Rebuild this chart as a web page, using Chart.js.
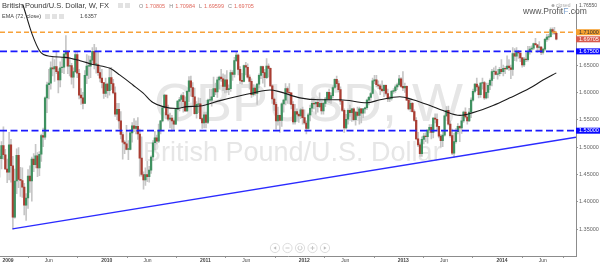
<!DOCTYPE html>
<html>
<head>
<meta charset="utf-8">
<script src="https://cdn.jsdelivr.net/npm/chart.js@4.4.1/dist/chart.umd.min.js"></script>
<style>
  html, body { margin: 0; padding: 0; background: #fff; }
  #wrap { position: relative; width: 600px; height: 266px; overflow: hidden; }
</style>
</head>
<body>
<div id="wrap"><canvas id="chart1" width="600" height="266"></canvas></div>
<script>
// weekly GBP/USD candles, week 0 = Mon 1 Dec 2008
var startDate = '2008-12-01';
var firstOpen = 1.4830;
var closes = [
  1.4790,1.5030,1.4860,1.4600,1.4540,
  1.5040,1.4660,1.3720,1.4380,1.4850,1.4410,1.4390,1.4270,1.3940,1.4070,1.4470,1.4380,1.4780,1.4680,1.4840,1.4620,1.4870,1.5210,1.5180,1.5900,1.6140,1.6170,1.6450,1.6430,1.6470,1.6380,1.6230,1.6450,1.6460,1.6700,1.6740,1.6480,1.6490,1.6280,1.6380,1.6690,1.6350,1.5950,1.5900,1.5800,1.6310,1.6480,1.6480,1.6590,1.6750,1.6510,1.6510,1.6360,1.6260,1.6180,1.5980,1.6150,
  1.6030,1.6270,1.6160,1.5990,1.5600,1.5690,1.5480,1.5230,1.5090,1.5060,1.4960,1.4960,1.5260,1.5390,1.5340,1.5380,1.5240,1.4800,1.4500,1.4400,1.4500,1.4460,1.4580,1.4820,1.5080,1.5170,1.5110,1.5310,1.5480,1.5720,1.5950,1.5590,1.5510,1.5530,1.5480,1.5420,1.5690,1.5840,1.5870,1.5940,1.5830,1.5660,1.6020,1.6210,1.6090,1.5920,1.5610,1.5780,1.5790,1.5520,1.5440,1.5590,
  1.5450,1.5860,1.5860,1.5920,1.6070,1.6010,1.6230,1.6280,1.6250,1.6110,1.6230,1.6050,1.6070,1.6360,1.6330,1.6580,1.6680,1.6420,1.6220,1.6200,1.6490,1.6460,1.6280,1.6200,1.5960,1.6080,1.5980,1.6150,1.6310,1.6470,1.6360,1.6270,1.6480,1.6440,1.6120,1.5880,1.5780,1.5480,1.5580,1.5490,1.5790,1.5860,1.6070,1.6000,1.5990,1.5780,1.5460,1.5650,1.5600,1.5570,1.5680,1.5540,
  1.5440,1.5340,1.5590,1.5710,1.5800,1.5790,1.5820,1.5740,1.5800,1.5660,1.5800,1.5880,1.6000,1.5880,1.5940,1.6090,1.6240,1.6160,1.6050,1.5840,1.5670,1.5350,1.5510,1.5670,1.5630,1.5700,1.5500,1.5640,1.5580,1.5700,1.5620,1.5700,1.5720,1.5860,1.5910,1.5980,1.6210,1.6230,1.6140,1.6120,1.6060,1.6030,1.6130,1.5980,1.5880,1.5890,1.6020,1.6030,1.6100,1.6140,1.6250,1.6110,1.6080,
  1.6110,1.5860,1.5700,1.5800,1.5650,1.5490,1.5150,1.5040,1.4880,1.5140,1.5200,1.5190,1.5310,1.5360,1.5270,1.5530,1.5510,1.5380,1.5200,1.5120,1.5220,1.5570,1.5670,1.5420,1.5210,1.4890,1.5100,1.5280,1.5380,1.5350,1.5480,1.5640,1.5550,1.5480,1.5640,1.5860,1.6020,1.6150,1.6100,1.5960,1.6170,1.6180,1.5900,1.6000,1.6130,1.6220,1.6380,1.6380,1.6330,1.6340,1.6420,1.6380,
  1.6440,1.6430,1.6480,1.6450,1.6420,1.6710,1.6660,1.6740,1.6720,1.6630,1.6500,1.6610,1.6600,1.6750,1.6790,1.6810,1.6890,1.6870,1.6820,1.6830,1.6730,1.6790,1.6970,1.7010,1.7020,1.7150,1.7110,1.7081,1.69705
];
var highs = [
  1.4950,1.5100,1.5370,1.4960,1.4780,
  1.5270,1.5140,1.4830,1.4600,1.4970,1.4990,1.4630,1.4620,1.4340,1.4150,1.4590,1.4660,1.4820,1.4880,1.5050,1.4900,1.4920,1.5240,1.5350,1.5920,1.6190,1.6420,1.6560,1.6650,1.6600,1.6740,1.6430,1.6560,1.6640,1.6720,1.7040,1.6760,1.6640,1.6530,1.6450,1.6740,1.6740,1.6420,1.6070,1.6000,1.6400,1.6690,1.6670,1.6660,1.6820,1.6880,1.6820,1.6740,1.6460,1.6420,1.6180,1.6260,
  1.6170,1.6450,1.6460,1.6240,1.6100,1.5800,1.5800,1.5650,1.5270,1.5120,1.5400,1.5120,1.5320,1.5450,1.5520,1.5480,1.5540,1.5330,1.5190,1.4550,1.4620,1.4740,1.4650,1.4840,1.5120,1.5290,1.5220,1.5420,1.5490,1.5740,1.5970,1.5950,1.5770,1.5620,1.5580,1.5500,1.5700,1.5850,1.5910,1.5970,1.6000,1.5920,1.6040,1.6290,1.6300,1.6180,1.6080,1.5830,1.5900,1.5890,1.5540,1.5640,
  1.5640,1.5880,1.6060,1.6060,1.6280,1.6170,1.6280,1.6300,1.6420,1.6340,1.6320,1.6400,1.6140,1.6410,1.6400,1.6640,1.6750,1.6700,1.6470,1.6350,1.6500,1.6550,1.6520,1.6320,1.6250,1.6140,1.6120,1.6160,1.6340,1.6480,1.6480,1.6420,1.6620,1.6520,1.6450,1.6140,1.5900,1.5820,1.5730,1.5580,1.5810,1.5880,1.6160,1.6100,1.6160,1.5990,1.5830,1.5780,1.5700,1.5620,1.5710,1.5730,
  1.5680,1.5480,1.5620,1.5770,1.5900,1.5900,1.5830,1.5880,1.5990,1.5830,1.5820,1.5910,1.6010,1.6060,1.5990,1.6120,1.6250,1.6300,1.6210,1.6100,1.5850,1.5700,1.5600,1.5700,1.5770,1.5710,1.5720,1.5660,1.5730,1.5730,1.5710,1.5710,1.5730,1.5880,1.5930,1.6000,1.6260,1.6310,1.6310,1.6210,1.6150,1.6210,1.6140,1.6140,1.6060,1.5930,1.6040,1.6070,1.6140,1.6170,1.6310,1.6270,1.6380,
  1.6170,1.6120,1.5900,1.5870,1.5820,1.5680,1.5540,1.5270,1.5080,1.5190,1.5250,1.5260,1.5320,1.5410,1.5410,1.5540,1.5610,1.5610,1.5380,1.5230,1.5310,1.5590,1.5740,1.5750,1.5480,1.5330,1.5250,1.5340,1.5430,1.5390,1.5560,1.5660,1.5720,1.5590,1.5710,1.5900,1.6060,1.6160,1.6260,1.6130,1.6180,1.6260,1.6200,1.6170,1.6170,1.6250,1.6420,1.6450,1.6480,1.6420,1.6460,1.6600,
  1.6500,1.6470,1.6670,1.6600,1.6500,1.6820,1.6800,1.6820,1.6770,1.6720,1.6640,1.6640,1.6720,1.6840,1.6840,1.6850,1.6900,1.6990,1.6880,1.6930,1.6840,1.6800,1.6990,1.7060,1.7060,1.7180,1.7180,1.7190,1.70984
];
var lows = [
  1.4450,1.4600,1.4780,1.4590,1.4350,
  1.4400,1.4360,1.3500,1.3700,1.4150,1.4260,1.4100,1.4080,1.3760,1.3660,1.3880,1.4170,1.4010,1.4550,1.4620,1.4460,1.4480,1.4740,1.5010,1.5140,1.5630,1.5880,1.6060,1.6300,1.6200,1.6340,1.5990,1.6100,1.6360,1.6340,1.6620,1.6340,1.6300,1.6150,1.6080,1.6360,1.6270,1.5880,1.5780,1.5700,1.5800,1.6160,1.6250,1.6270,1.6540,1.6430,1.6350,1.6310,1.6190,1.6080,1.5890,1.5920,
  1.5900,1.5950,1.6050,1.5970,1.5560,1.5500,1.5340,1.5150,1.4780,1.4880,1.4950,1.4770,1.4950,1.5090,1.5280,1.5240,1.5140,1.4470,1.4470,1.4230,1.4300,1.4370,1.4360,1.4520,1.4750,1.4950,1.5060,1.5080,1.5240,1.5460,1.5710,1.5520,1.5480,1.5350,1.5290,1.5300,1.5410,1.5490,1.5660,1.5720,1.5640,1.5650,1.5650,1.5830,1.5930,1.5760,1.5600,1.5530,1.5630,1.5510,1.5340,1.5350,
  1.5350,1.5430,1.5830,1.5750,1.5920,1.5960,1.5910,1.6060,1.6200,1.6030,1.5990,1.6000,1.5960,1.6020,1.6220,1.6280,1.6560,1.6320,1.6160,1.6150,1.6190,1.6320,1.6260,1.6060,1.5910,1.5930,1.5950,1.5780,1.6080,1.6250,1.6170,1.6100,1.6250,1.6280,1.6110,1.5800,1.5670,1.5330,1.5400,1.5270,1.5380,1.5640,1.5770,1.5800,1.5790,1.5700,1.5420,1.5420,1.5470,1.5450,1.5520,1.5420,
  1.5420,1.5240,1.5330,1.5480,1.5650,1.5700,1.5600,1.5640,1.5720,1.5600,1.5600,1.5740,1.5830,1.5810,1.5800,1.5900,1.6070,1.6100,1.6010,1.5780,1.5650,1.5270,1.5330,1.5420,1.5560,1.5470,1.5480,1.5400,1.5550,1.5420,1.5440,1.5540,1.5620,1.5690,1.5770,1.5850,1.5970,1.6160,1.6100,1.6070,1.5960,1.6010,1.5920,1.5950,1.5830,1.5830,1.5860,1.5980,1.6000,1.6050,1.6120,1.6090,1.6030,
  1.6000,1.5850,1.5680,1.5650,1.5640,1.5470,1.5130,1.5010,1.4830,1.4830,1.5060,1.5100,1.5070,1.5260,1.5150,1.5170,1.5440,1.5320,1.5170,1.5000,1.5010,1.5200,1.5560,1.5400,1.5180,1.4860,1.4810,1.5070,1.5240,1.5100,1.5250,1.5450,1.5530,1.5420,1.5470,1.5540,1.5840,1.5990,1.6030,1.5900,1.5910,1.6060,1.5870,1.5880,1.5900,1.6050,1.6120,1.6250,1.6320,1.6240,1.6300,1.6340,
  1.6300,1.6340,1.6420,1.6400,1.6250,1.6310,1.6580,1.6570,1.6620,1.6560,1.6460,1.6470,1.6560,1.6570,1.6700,1.6730,1.6780,1.6860,1.6730,1.6760,1.6690,1.6700,1.6760,1.6930,1.6960,1.7010,1.7060,1.7060,1.69599
];

// EMA (72, close): week index / value
var emaWeeks  = [0, 6.5, 12.2, 17.1, 21.3, 26.6, 34.5, 42.5, 49.3, 58.3, 63.6, 70.4, 75.7, 81, 86.3, 93.7, 99, 105.8, 116.4, 127, 133.8, 142.8, 148.1, 158.6, 169.2, 179.8, 194, 200.9, 211.4, 218.3, 227.3, 234.2, 243.1, 250, 260.6, 269.5, 280.1, 287, 294];
var emaValues = [1.874, 1.815, 1.761, 1.707, 1.675, 1.666, 1.664, 1.658, 1.651, 1.644, 1.6315, 1.6135, 1.599, 1.5815, 1.574, 1.5705, 1.574, 1.575, 1.585, 1.594, 1.599, 1.6045, 1.601, 1.590, 1.5866, 1.5866, 1.581, 1.5866, 1.592, 1.5866, 1.576, 1.5668, 1.558, 1.563, 1.576, 1.590, 1.608, 1.6225, 1.6357];

// drawn levels and trend line
var orangeLevel = 1.71;
var blueLevels = [1.675, 1.53];
var trendWeeks = [6.8, 304.4];
var trendPrices = [1.3505, 1.518];

// axes
var xMin = 0.2, xMax = 304.4;
var yMin = 1.301, yMax = 1.761;
var priceTicks = [1.35, 1.40, 1.45, 1.50, 1.55, 1.60, 1.65];
var tickDates = ['2009-01-01','2009-06-01','2010-01-01','2010-06-01','2011-01-01','2011-06-01','2012-01-01','2012-06-01','2013-01-01','2013-06-01','2014-01-01','2014-06-01'];
var tickLabels = ['2009','Jun','2010','Jun','2011','Jun','2012','Jun','2013','Jun','2014','Jun'];

var lastOHLC = ['1.70805', '1.70984', '1.69599', '1.69705'];
var emaLast = '1.6357';

function weekOf(d) {
  return (Date.parse(d) - Date.parse(startDate)) / 604800000;
}

var wicks = [], bodies = [], bodyColors = [];
for (var i = 0; i < closes.length; i++) {
  var o = i == 0 ? firstOpen : closes[i - 1];
  wicks.push({x: i, y: [lows[i], highs[i]]});
  bodies.push({x: i, y: [o, closes[i]]});
  bodyColors.push(closes[i] >= o ? '#3f9160' : '#aa3d32');
}

var FONT = '"Liberation Sans", Arial, sans-serif';

function drawCircleBtn(c, x, y) {
  c.beginPath();
  c.arc(x, y, 4.6, 0, Math.PI * 2);
  c.fillStyle = '#fff';
  c.fill();
  c.strokeStyle = '#d4d4d4';
  c.lineWidth = 0.8;
  c.stroke();
}

var overlay = {
  id: 'overlay',
  beforeDatasetsDraw: function(chart) {
    var c = chart.ctx;
    c.save();
    c.fillStyle = '#e6e6e6';
    c.textBaseline = 'alphabetic';
    c.font = '54px ' + FONT;
    c.fillText('GBPUSD, W', 154, 121);
    c.font = '27px ' + FONT;
    c.fillText('British Pound/U.S. Dollar', 143, 161);
    c.restore();
  },
  afterDraw: function(chart) {
    var c = chart.ctx, y = chart.scales.y;
    c.save();
    c.textBaseline = 'middle';

    // header
    c.fillStyle = '#3a3a3a';
    c.font = '7.5px ' + FONT;
    c.fillText('British Pound/U.S. Dollar, W, FX', 2, 6);
    c.fillStyle = '#e2e2e2';
    c.fillRect(118, 3, 5, 5);
    c.fillRect(125, 3, 5, 5);
    var px = 139;
    c.font = '5.5px ' + FONT;
    ['O', 'H', 'L', 'C'].forEach(function(k, j) {
      c.fillStyle = '#888';
      c.fillText(k, px, 6);
      px += c.measureText(k).width + 2;
      c.fillStyle = '#e06a5e';
      c.fillText(lastOHLC[j], px, 6);
      px += c.measureText(lastOHLC[j]).width + 4;
    });
    c.fillStyle = '#444';
    c.fillText('EMA (72, close)', 2, 16.5);
    c.fillStyle = '#e2e2e2';
    c.fillRect(45, 14, 5, 5);
    c.fillRect(52, 14, 5, 5);
    c.fillRect(59, 14, 5, 5);
    c.fillStyle = '#444';
    c.fillText(emaLast, 80, 16.5);

    // top right
    c.fillStyle = '#aaa';
    c.beginPath(); c.arc(553, 5.5, 1.5, 0, Math.PI * 2); c.fill();
    c.font = '5px ' + FONT;
    c.fillText('closed', 556, 5.5);
    c.fillStyle = '#555';
    c.fillText('1.76550', 579, 5.5);
    c.fillStyle = '#555';
    c.font = '8.5px ' + FONT;
    c.fillText('www.Profit', 523, 12);
    var wx = 523 + c.measureText('www.Profit').width;
    c.fillStyle = '#7ea3cf';
    c.fillText('F', wx, 12);
    wx += c.measureText('F').width;
    c.fillStyle = '#555';
    c.fillText('.com', wx, 12);

    // price tags on the right axis
    var tags = [
      [orangeLevel, '#f5a030', '#333', '1.71000'],
      [parseFloat(lastOHLC[3]), '#d85a4c', '#fff', lastOHLC[3]],
      [blueLevels[0], '#0a0aff', '#fff', '1.67500'],
      [blueLevels[1], '#0a0aff', '#fff', '1.53000']
    ];
    c.font = '5.5px ' + FONT;
    tags.forEach(function(t) {
      var ty = y.getPixelForValue(t[0]);
      c.fillStyle = t[1];
      c.fillRect(576, ty - 3, 24, 6);
      c.fillStyle = t[2];
      c.fillText(t[3], 579, ty);
    });

    // navigation buttons
    var bx = [275, 287.5, 300, 312.5, 325], by = 248;
    bx.forEach(function(x) { drawCircleBtn(c, x, by); });
    c.fillStyle = '#bbb';
    c.strokeStyle = '#bbb';
    c.lineWidth = 0.8;
    c.beginPath(); c.moveTo(273.5, by); c.lineTo(276.2, by - 1.8); c.lineTo(276.2, by + 1.8); c.fill();
    c.beginPath(); c.moveTo(285.5, by); c.lineTo(289.5, by); c.stroke();
    c.beginPath(); c.arc(300, by, 2, -1.2, 4.4); c.stroke();
    c.beginPath(); c.moveTo(310.5, by); c.lineTo(314.5, by); c.moveTo(312.5, by - 2); c.lineTo(312.5, by + 2); c.stroke();
    c.beginPath(); c.moveTo(326.5, by); c.lineTo(323.8, by - 1.8); c.lineTo(323.8, by + 1.8); c.fill();
    c.restore();
  }
};

var ctx = document.getElementById('chart1').getContext('2d');
var myChart = new Chart(ctx, {
  type: 'bar',
  data: {
    datasets: [{
      label: 'wick',
      data: wicks,
      backgroundColor: '#c6c6c6',
      barThickness: 1,
      grouped: false,
      order: 5
    },
    {
      label: 'body',
      data: bodies,
      backgroundColor: bodyColors,
      barThickness: 1.6,
      minBarLength: 0.6,
      grouped: false,
      order: 4
    },
    {
      type: 'line',
      label: 'EMA',
      data: emaWeeks.map(function(w, i) { return {x: w, y: emaValues[i]}; }),
      borderColor: '#1b1b1b',
      borderWidth: 1.1,
      pointRadius: 0,
      cubicInterpolationMode: 'monotone',
      order: 3
    },
    {
      type: 'line',
      label: 'resistance',
      data: [{x: xMin, y: orangeLevel}, {x: xMax, y: orangeLevel}],
      borderColor: '#f7a23a',
      borderWidth: 1.6,
      borderDash: [5, 3],
      pointRadius: 0,
      order: 2
    },
    {
      type: 'line',
      label: 'upper',
      data: [{x: xMin, y: blueLevels[0]}, {x: xMax, y: blueLevels[0]}],
      borderColor: '#1a1aff',
      borderWidth: 1.8,
      borderDash: [7, 3.5],
      pointRadius: 0,
      order: 1
    },
    {
      type: 'line',
      label: 'lower',
      data: [{x: xMin, y: blueLevels[1]}, {x: xMax, y: blueLevels[1]}],
      borderColor: '#1a1aff',
      borderWidth: 1.8,
      borderDash: [7, 3.5],
      pointRadius: 0,
      order: 1
    },
    {
      type: 'line',
      label: 'trend',
      data: trendWeeks.map(function(w, i) { return {x: w, y: trendPrices[i]}; }),
      borderColor: '#2b2bff',
      borderWidth: 1.4,
      pointRadius: 0,
      order: 1
    }]
  },
  options: {
    responsive: false,
    animation: false,
    layout: { padding: 0 },
    plugins: {
      legend: { display: false },
      tooltip: { enabled: false }
    },
    scales: {
      x: {
        type: 'linear',
        min: xMin,
        max: xMax,
        offset: false,
        afterFit: function(s) { s.height = 10; },
        afterBuildTicks: function(s) {
          s.ticks = tickDates.map(function(d) { return {value: weekOf(d)}; });
        },
        ticks: {
          autoSkip: false,
          maxRotation: 0,
          padding: 0,
          color: '#444',
          font: function(c) { return {size: 5, family: FONT, weight: c.index % 2 == 0 ? 'bold' : 'normal'}; },
          callback: function(v, i) { return tickLabels[i]; }
        },
        grid: { drawOnChartArea: false, tickLength: 2, tickColor: '#999' },
        border: { color: '#8c8c8c', width: 1 }
      },
      y: {
        position: 'right',
        min: yMin,
        max: yMax,
        afterFit: function(s) { s.width = 24; },
        afterBuildTicks: function(s) {
          s.ticks = priceTicks.map(function(v) { return {value: v}; });
        },
        ticks: {
          padding: 1,
          color: '#666',
          font: { size: 5.5, family: FONT },
          callback: function(v) { return v.toFixed(5); }
        },
        grid: { drawOnChartArea: false, tickLength: 2, tickColor: '#999' },
        border: { color: '#8c8c8c', width: 1 }
      }
    }
  },
  plugins: [overlay]
});
</script>
</body>
</html>
